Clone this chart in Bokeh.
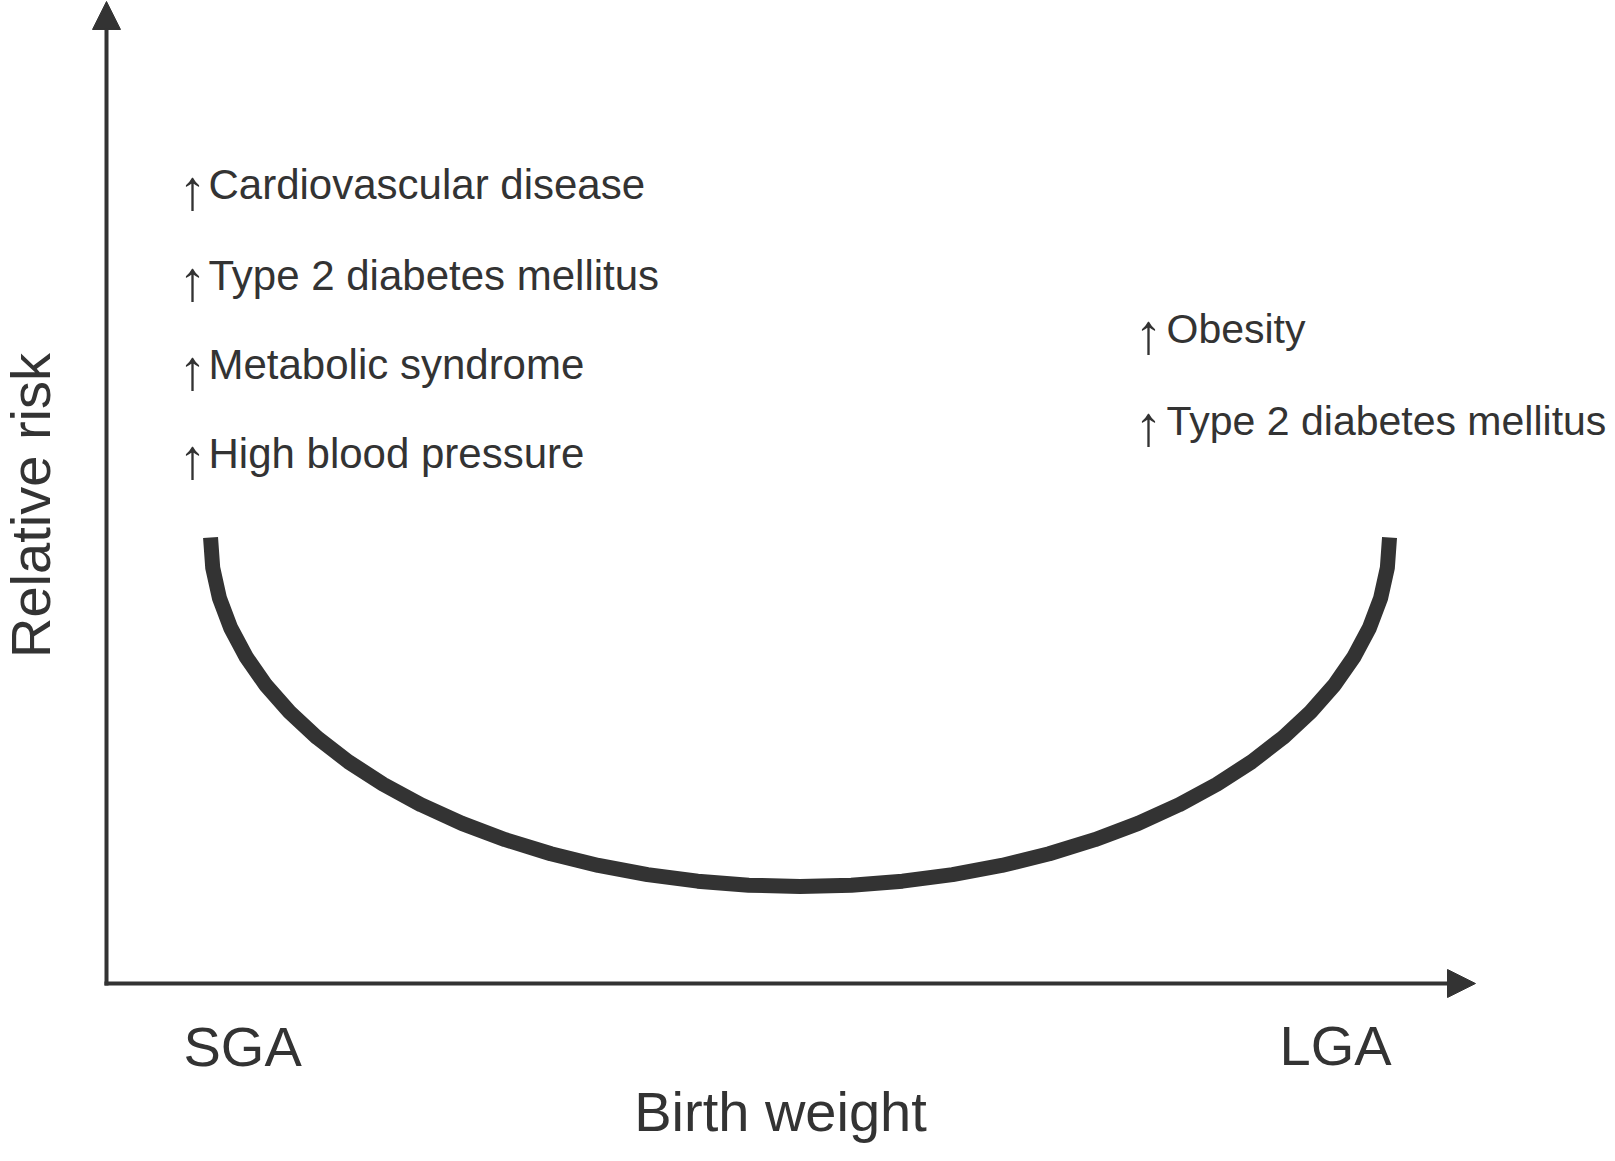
from bokeh.plotting import figure
from bokeh.models import Range1d, Arrow, NormalHead, ColumnDataSource
from bokeh.core.properties import value
from bokeh.embed import file_html
from bokeh.resources import INLINE

# ---- data (conceptual U-shaped relation) ----
birth_weight = [0.760, 0.776, 0.825, 0.907, 1.020, 1.163, 1.337, 1.539, 1.768, 2.021,
                2.298, 2.596, 2.913, 3.246, 3.593, 3.952, 4.318, 4.691, 5.066,
                5.441, 5.814, 6.180, 6.539, 6.886, 7.219, 7.536, 7.834, 8.111,
                8.364, 8.593, 8.795, 8.969, 9.112, 9.225, 9.307, 9.356, 9.372]
relative_risk = [4.537, 4.227, 3.921, 3.618, 3.323, 3.037, 2.762, 2.501, 2.255, 2.027,
                 1.818, 1.629, 1.463, 1.320, 1.201, 1.108, 1.041, 1.000, 0.987,
                 1.000, 1.041, 1.108, 1.201, 1.320, 1.463, 1.629, 1.818, 2.027,
                 2.255, 2.501, 2.762, 3.037, 3.323, 3.618, 3.921, 4.227, 4.537]

sga_risks = ["Cardiovascular disease", "Type 2 diabetes mellitus",
             "Metabolic syndrome", "High blood pressure"]
lga_risks = ["Obesity", "Type 2 diabetes mellitus"]
up_mark = "\u2191"
x_categories = ["SGA", "LGA"]
x_title = "Birth weight"
y_title = "Relative risk"

# ---- layout ----
W, H = 1615, 1161
SX, SY = 136.9, 98.3      # pixels per data unit
OX, OY = 106, 983         # origin position in figure pixels (from left / top)
SHIFT = 0.375             # baseline correction (fraction of font size)

def dx(px):
    return (px - OX) / SX

def dy(py):
    return (OY - py) / SY

def base(py, fs):
    return dy(py - SHIFT * fs)

INK = "#333333"
FONT = value("Liberation Sans")
FS_LEFT = 42
FS_RIGHT = 41
FS_BIG = 56
FS_ARROW = 56

p = figure(width=W, height=H,
           x_range=Range1d(-OX / SX, (W - OX) / SX),
           y_range=Range1d(-(H - OY) / SY, OY / SY),
           output_backend="svg", toolbar_location=None,
           x_axis_location=None, y_axis_location=None,
           min_border=0, min_border_left=0, min_border_right=0,
           min_border_top=0, min_border_bottom=0)
p.outline_line_color = None
p.xgrid.visible = False
p.ygrid.visible = False
p.background_fill_color = "white"
p.border_fill_color = "white"

# axes with arrow heads
p.add_layout(Arrow(end=NormalHead(size=28, fill_color=INK, line_color=INK, line_width=1),
                   x_start=-0.015, y_start=0, x_end=10.0, y_end=0,
                   line_color=INK, line_width=4))
p.add_layout(Arrow(end=NormalHead(size=28, fill_color=INK, line_color=INK, line_width=1),
                   x_start=0, y_start=-0.02, x_end=0, y_end=9.99,
                   line_color=INK, line_width=4))

# the U curve
p.line(birth_weight, relative_risk, line_width=15, line_color=INK, line_cap="butt",
       line_join="round")

# risk labels
left_base = [200, 291, 380, 469]
right_base = [344, 436]

left_src = ColumnDataSource(dict(
    x=[dx(208)] * len(sga_risks),
    y=[base(b, FS_LEFT) for b in left_base],
    t=sga_risks))
p.text(x="x", y="y", text="t", source=left_src, text_font=FONT,
       text_font_size=f"{FS_LEFT}px", text_color=INK, text_align="left",
       text_baseline="alphabetic")

right_src = ColumnDataSource(dict(
    x=[dx(1166)] * len(lga_risks),
    y=[base(b, FS_RIGHT) for b in right_base],
    t=lga_risks))
p.text(x="x", y="y", text="t", source=right_src, text_font=FONT,
       text_font_size=f"{FS_RIGHT}px", text_color=INK, text_align="left",
       text_baseline="alphabetic")

# up arrows in front of the labels
arrow_src = ColumnDataSource(dict(
    x=[dx(192)] * len(sga_risks) + [dx(1148)] * len(lga_risks),
    y=[base(b + 10, FS_ARROW) for b in left_base + right_base],
    t=[up_mark] * (len(sga_risks) + len(lga_risks))))
p.text(x="x", y="y", text="t", source=arrow_src, text_font=FONT,
       text_font_size=f"{FS_ARROW}px", text_color=INK, text_align="center",
       text_baseline="alphabetic")

# category labels under the x axis
cat_src = ColumnDataSource(dict(x=[dx(183), dx(1279)],
                                y=[base(1067, FS_BIG), base(1066, FS_BIG)],
                                t=x_categories))
p.text(x="x", y="y", text="t", source=cat_src, text_font=FONT,
       text_font_size=f"{FS_BIG}px", text_color=INK, text_align="left",
       text_baseline="alphabetic")

# axis titles
p.text(x=[dx(780)], y=[base(1132, FS_BIG)], text=[x_title], text_font=FONT,
       text_font_size=f"{FS_BIG}px", text_color=INK, text_align="center",
       text_baseline="alphabetic")
p.text(x=[dx(51 - SHIFT * FS_BIG)], y=[dy(505)], text=[y_title], angle=1.5707963,
       text_font=FONT, text_font_size=f"{FS_BIG}px", text_color=INK,
       text_align="center", text_baseline="alphabetic")

open("out.html", "w").write(file_html(p, INLINE))
